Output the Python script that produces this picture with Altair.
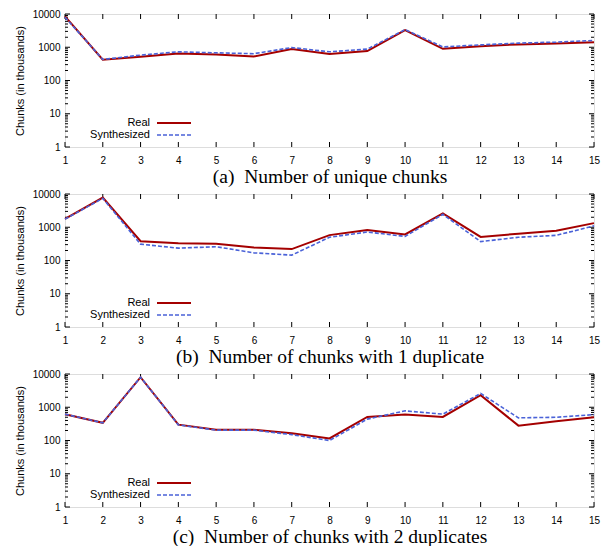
import altair as alt
import pandas as pd

x_vals = list(range(1, 16))
series = ["Real", "Synthesized"]
titles = [
    "(a)\u00a0 Number of unique chunks",
    "(b)\u00a0 Number of chunks with 1 duplicate",
    "(c)\u00a0 Number of chunks with 2 duplicates",
]
y_title = "Chunks (in thousands)"

a_real = [8500, 420, 520, 650, 610, 530, 880, 630, 770, 3300, 900, 1080, 1220, 1300, 1420]
a_synth = [8000, 430, 580, 730, 680, 640, 980, 730, 880, 3400, 1020, 1180, 1330, 1430, 1600]
b_real = [1800, 7800, 380, 330, 320, 245, 220, 580, 820, 610, 2600, 510, 640, 780, 1330]
b_synth = [1750, 7400, 310, 235, 260, 170, 145, 500, 720, 530, 2450, 370, 500, 570, 1100]
c_real = [620, 340, 8000, 300, 210, 210, 165, 115, 510, 600, 510, 2300, 280, 380, 500]
c_synth = [620, 340, 8000, 295, 205, 205, 150, 100, 440, 780, 620, 2600, 480, 500, 600]

colors = ["#a40000", "#4a62d8"]
y_major = [1, 10, 100, 1000, 10000]
y_minor = [m * 10 ** d for d in range(4) for m in range(2, 10)]

W, H = 529, 133
SANS = "Liberation Sans"
SERIF = "Liberation Serif"


def panel(real, synth, title):
    df = pd.DataFrame({
        "x": x_vals * 2,
        "v": real + synth,
        "s": [series[0]] * len(x_vals) + [series[1]] * len(x_vals),
    })
    xs = alt.Scale(domain=[1, 15], nice=False, zero=False)
    ys = alt.Scale(type="log", domain=[1, 10000], nice=False)
    x_enc = alt.X("x:Q", scale=xs, axis=alt.Axis(
        values=x_vals, title=title, titleFont=SERIF, titleFontSize=19.5,
        titleFontWeight="normal", labelPadding=8, titlePadding=2,
        labelFlush=False, format="d", grid=False, ticks=False, domain=False))
    y_enc = alt.Y("v:Q", scale=ys, axis=alt.Axis(
        values=y_major, format="d", title=y_title, titleFont=SANS,
        titleFontSize=11, titleFontWeight="normal", labelPadding=5,
        titlePadding=7, grid=False, ticks=False, domain=False))

    base = alt.Chart(df)
    real_line = base.transform_filter(alt.datum.s == series[0]).mark_line(
        color=colors[0], strokeWidth=2).encode(x=x_enc, y=y_enc)
    synth_line = base.transform_filter(alt.datum.s == series[1]).mark_line(
        color=colors[1], strokeWidth=1.6, strokeDash=[4, 2]).encode(x=x_enc, y=y_enc)

    xt = alt.Chart(pd.DataFrame({"x": x_vals}))
    xt_bottom = xt.mark_rule(color="black", strokeWidth=1).encode(
        x=x_enc, y=alt.value(H), y2=alt.value(H - 5))
    xt_top = xt.mark_rule(color="black", strokeWidth=1).encode(
        x=x_enc, y=alt.value(0), y2=alt.value(5))
    ymaj = alt.Chart(pd.DataFrame({"v": y_major}))
    ymin = alt.Chart(pd.DataFrame({"v": y_minor}))
    yl_maj = ymaj.mark_rule(color="black", strokeWidth=1).encode(
        y=y_enc, x=alt.value(0), x2=alt.value(5))
    yr_maj = ymaj.mark_rule(color="black", strokeWidth=1).encode(
        y=y_enc, x=alt.value(W), x2=alt.value(W - 5))
    yl_min = ymin.mark_rule(color="black", strokeWidth=1).encode(
        y=y_enc, x=alt.value(0), x2=alt.value(3))
    yr_min = ymin.mark_rule(color="black", strokeWidth=1).encode(
        y=y_enc, x=alt.value(W), x2=alt.value(W - 3))

    leg = []
    for i, name in enumerate(series):
        ld = alt.Chart(pd.DataFrame({"s": [name]}))
        yy = 109 + 12 * i
        leg.append(ld.mark_text(align="right", baseline="middle", font=SANS,
                                fontSize=11, color="black").encode(
            x=alt.value(85), y=alt.value(yy), text="s:N"))
        if i == 0:
            r = ld.mark_rule(color=colors[0], strokeWidth=2)
        else:
            r = ld.mark_rule(color=colors[1], strokeWidth=1.6, strokeDash=[4, 2])
        leg.append(r.encode(x=alt.value(92), x2=alt.value(126), y=alt.value(yy)))

    return alt.layer(xt_bottom, xt_top, yl_maj, yr_maj, yl_min, yr_min,
                     real_line, synth_line, *leg).properties(width=W, height=H)


chart = alt.vconcat(
    panel(a_real, a_synth, titles[0]),
    panel(b_real, b_synth, titles[1]),
    panel(c_real, c_synth, titles[2]),
    spacing=47, bounds="flush",
).properties(
    padding={"left": 13, "top": 8, "right": 2, "bottom": 0}
).configure_view(
    stroke="black", strokeWidth=1.2
).configure_axis(
    grid=False, domain=False, ticks=False, labelFont=SANS, labelFontSize=11,
    labelColor="black", titleColor="black"
).configure(background="white")

chart.save("out.html", embed_options={"renderer": "svg", "actions": False})
